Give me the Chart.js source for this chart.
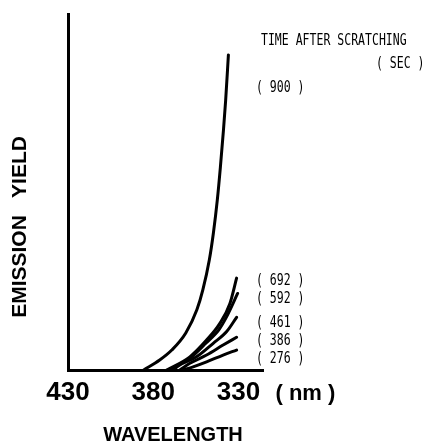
<!DOCTYPE html>
<html>
<head>
<meta charset="utf-8">
<script src="https://cdn.jsdelivr.net/npm/chart.js@4/dist/chart.umd.min.js"></script>
<style>
  html, body { margin: 0; padding: 0; background: #fff; }
  #wrap { width: 422px; height: 441px; }
</style>
</head>
<body>
<div id="wrap"><canvas id="emChart" width="422" height="441"></canvas></div>
<script>
// --- DATA (wavelength nm / emission yield, arbitrary units 0-100) ---
const xTicks = [430, 380, 330];
const seriesTimes = [900, 692, 592, 461, 386, 276];

const wl900 = [385.6, 376.2, 369.1, 360.9, 354.4, 350.9, 347.1, 344.7, 342.4, 340.6, 338.8, 337.5, 335.9];
const em900 = [0, 2.8, 5.6, 10.4, 16.9, 22.5, 30.9, 38.5, 47.8, 57.0, 67.4, 75.8, 88.5];

const wl692 = [372.1, 358.5, 348.7, 340.9, 335.0, 331.1];
const em692 = [0, 3.7, 8.4, 13.1, 18.7, 25.8];

const wl592 = [371.0, 358.5, 349.0, 341.5, 336.9, 330.5];
const em592 = [0, 3.3, 7.6, 11.3, 15.0, 21.5];

const wl461 = [368.5, 364.4, 354.6, 344.8, 336.9, 331.1];
const em461 = [0, 1.4, 3.7, 7.5, 10.8, 14.8];

const wl386 = [364.4, 358.5, 348.7, 339.0, 331.1];
const em386 = [0, 1.9, 4.2, 7.0, 9.2];

const wl276 = [362.5, 356.6, 348.7, 339.0, 331.1];
const em276 = [0, 0.9, 2.3, 4.2, 5.6];

const wlData = [wl900, wl692, wl592, wl461, wl386, wl276];
const emData = [em900, em692, em592, em461, em386, em276];

// --- LABEL LAYOUT (pixels) ---
const labelLeft = 256;
const labelY = [88, 281, 299, 322.5, 341, 359];

// --- TEXT PLUGIN ---
function narrowText(ctx, text, x, y) {
    ctx.save();
    ctx.translate(x, y);
    ctx.scale(0.72, 1);
    ctx.fillText(text, 0, 0);
    ctx.restore();
}

const annotations = {
    id: 'annotations',
    afterDraw(chart) {
        const ctx = chart.ctx;
        const xs = chart.scales.x;
        ctx.save();
        ctx.fillStyle = '#000';

        // mono labels
        ctx.font = '16px "DejaVu Sans Mono"';
        ctx.textAlign = 'left';
        ctx.textBaseline = 'middle';
        narrowText(ctx, 'TIME AFTER SCRATCHING', 261, 41);
        narrowText(ctx, '( SEC )', 376, 64);
        seriesTimes.forEach((t, i) => narrowText(ctx, `( ${t} )`, labelLeft, labelY[i]));

        // unit after the 330 tick
        ctx.font = 'bold 22px "Liberation Sans"';
        ctx.textBaseline = 'alphabetic';
        ctx.fillText('( nm )', xs.getPixelForValue(330) + 37, 399.5);

        // x title
        ctx.font = 'bold 20px "Liberation Sans"';
        ctx.textAlign = 'center';
        ctx.fillText('WAVELENGTH', 173, 440.5);

        // y title
        ctx.font = 'bold 21px "Liberation Sans"';
        ctx.textBaseline = 'middle';
        ctx.translate(20.5, 0);
        ctx.rotate(-Math.PI / 2);
        ctx.fillText('EMISSION', -266.5, 0);
        ctx.fillText('YIELD', -167, 0);
        ctx.restore();
    }
};

// --- CHART ---
const datasets = wlData.map((wl, i) => ({
    label: String(seriesTimes[i]),
    data: wl.map((x, j) => ({ x: x, y: emData[i][j] })),
    borderColor: '#000',
    borderWidth: 3,
    pointRadius: 0,
    fill: false,
    cubicInterpolationMode: 'monotone',
    borderCapStyle: 'round'
}));

new Chart(document.getElementById('emChart'), {
    type: 'line',
    data: { datasets },
    options: {
        responsive: false,
        animation: false,
        layout: { padding: { top: 14, right: 159, left: 0, bottom: 0 } },
        plugins: { legend: { display: false }, tooltip: { enabled: false } },
        scales: {
            x: {
                type: 'linear',
                reverse: true,
                min: 315.6,
                max: 430,
                afterBuildTicks: (scale) => { scale.ticks = xTicks.map(v => ({ value: v })); },
                afterFit: (scale) => { scale.height = 71; },
                ticks: {
                    autoSkip: false,
                    maxRotation: 0,
                    padding: 7,
                    color: '#000',
                    font: { family: 'Liberation Sans', size: 26, weight: 'bold' }
                },
                grid: { display: false, drawTicks: false },
                border: { display: true, color: '#000', width: 3 }
            },
            y: {
                min: 0,
                max: 100,
                afterFit: (scale) => { scale.width = 68; },
                ticks: { display: false },
                grid: { display: false, drawTicks: false },
                border: { display: true, color: '#000', width: 3 }
            }
        }
    },
    plugins: [annotations]
});
</script>
</body>
</html>
